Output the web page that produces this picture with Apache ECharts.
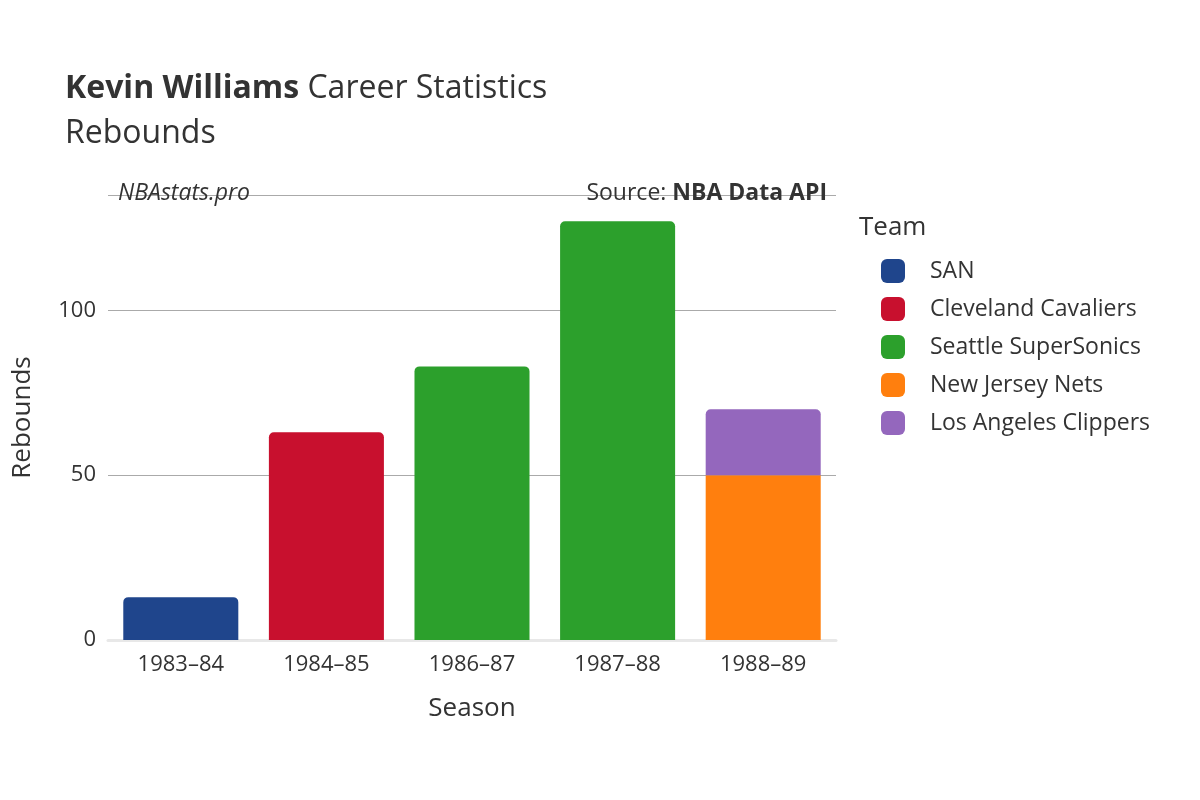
<!DOCTYPE html>
<html><head><meta charset="utf-8">
<script src="https://cdn.jsdelivr.net/npm/echarts@6/dist/echarts.min.js"></script>
<style>html,body{margin:0;padding:0;background:#fff}#c{width:1200px;height:800px}</style>
</head><body><div id="c"></div>
<script>
const seasons = ['1983–84','1984–85','1986–87','1987–88','1988–89'];
const teams = ['SAN','Cleveland Cavaliers','Seattle SuperSonics','New Jersey Nets','Los Angeles Clippers'];
const colors = ['#1f458c','#c8102e','#2ca02c','#ff7f0e','#9467bd'];
const sanVals = [13,null,null,null,null];
const cleVals = [null,63,null,null,null];
const seaVals = [null,null,83,127,null];
const njnVals = [null,null,null,null,50];
const lacVals = [null,null,null,null,20];
const allVals = [sanVals,cleVals,seaVals,njnVals,lacVals];
const F = 'Open Sans, Noto Sans, sans-serif';
const chart = echarts.init(document.getElementById('c'));
chart.setOption({
  animation:false,
  textStyle:{fontFamily:F},
  title:[
    {text:'{b|Kevin Williams} Career Statistics',left:60,top:68,textStyle:{fontSize:32,color:'#333',fontWeight:'normal',fontFamily:F,rich:{b:{fontSize:32,fontWeight:'bold',color:'#333',fontFamily:F}}}},
    {text:'Rebounds',left:60,top:113,textStyle:{fontSize:32,color:'#333',fontWeight:'normal',fontFamily:F}},
    {text:'NBAstats.pro',left:113,top:177,textStyle:{fontSize:23,color:'#333',fontStyle:'italic',fontWeight:'normal',fontFamily:F}},
    {text:'Source: {b|NBA Data API}',right:368,top:177,textStyle:{fontSize:23,color:'#333',fontWeight:'normal',fontFamily:F,rich:{b:{fontSize:23,fontWeight:'bold',color:'#333',fontFamily:F}}}},
    {text:'Team',left:854,top:210,textStyle:{fontSize:26,color:'#333',fontWeight:'normal',fontFamily:F}}
  ],
  legend:{orient:'vertical',left:876,top:254,itemWidth:24,itemHeight:24,itemGap:14,icon:'roundRect',
    textStyle:{fontSize:23,color:'#333',fontFamily:F,padding:[0,0,0,20]},data:teams},
  grid:{left:108,right:364,top:195,bottom:160},
  xAxis:{type:'category',data:seasons,name:'Season',nameLocation:'middle',nameGap:56,
    nameTextStyle:{fontSize:26,color:'#333'},
    axisLine:{show:true,lineStyle:{color:'#e8e8e8',width:3}},axisTick:{show:false},
    axisLabel:{fontSize:22,color:'#333',margin:14}},
  yAxis:{type:'value',min:0,max:135,interval:50,name:'Rebounds',nameLocation:'middle',nameGap:72,
    nameTextStyle:{fontSize:26,color:'#333'},
    axisLabel:{fontSize:22,color:'#333',showMaxLabel:false,margin:12},
    splitLine:{lineStyle:{color:'#aaa',width:1}},axisLine:{show:false},axisTick:{show:false}},
  series: teams.map((t,i)=>({name:t,type:'bar',stack:'a',data:allVals[i],barCategoryGap:'21%',
    itemStyle:{color:colors[i],borderRadius:i===3?0:[5,5,0,0]}}))
});
</script></body></html>
